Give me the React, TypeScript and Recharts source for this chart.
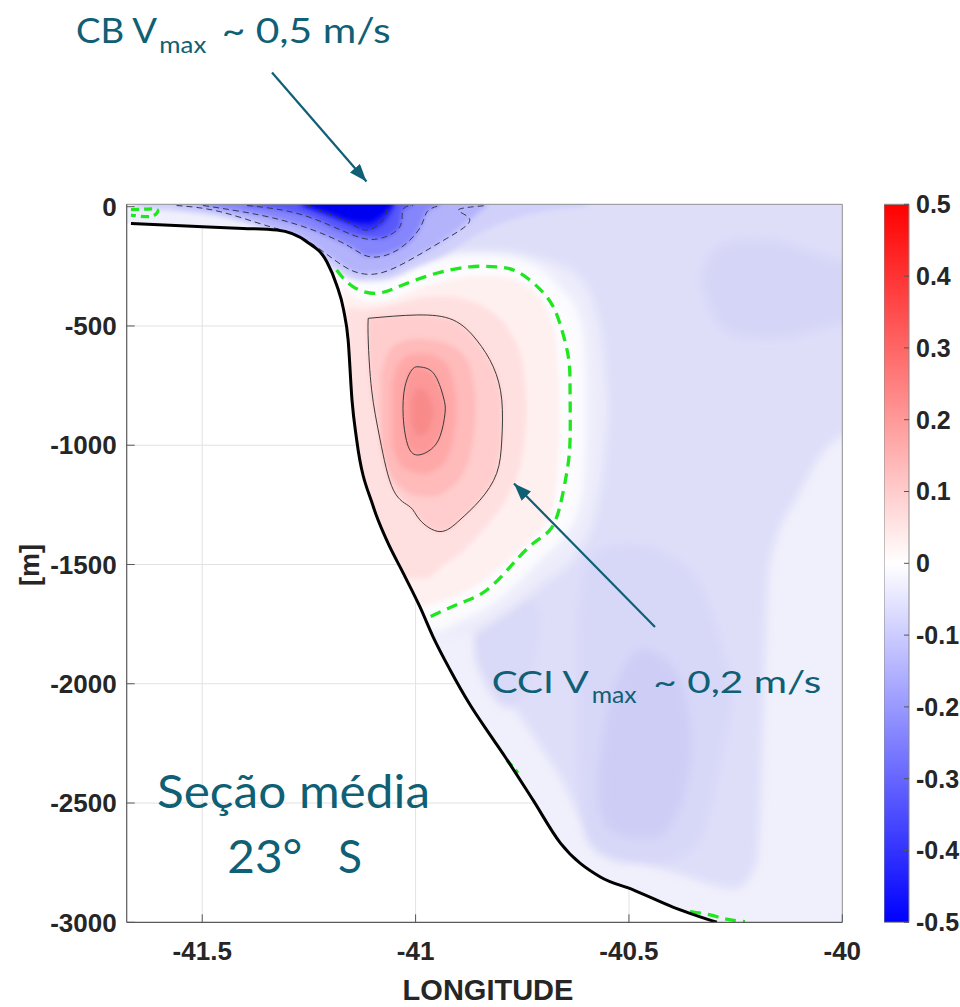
import React from 'react';
import { ComposedChart, Area, Line, XAxis, YAxis, ReferenceLine, ReferenceArea } from 'recharts';

type Pt = [number, number];
type Band = [number, number, number];

// ---------- axes ----------
const lonTicks = [-41.5, -41, -40.5, -40];
const depthTicks = [0, -500, -1000, -1500, -2000, -2500, -3000];
const colorTicks = [0.5, 0.4, 0.3, 0.2, 0.1, 0, -0.1, -0.2, -0.3, -0.4, -0.5];
const lonDomain: [number, number] = [-41.677, -40];
const depthDomain: [number, number] = [-3000, 10];
const colorDomain: [number, number] = [-0.5, 0.5];

// ---------- bathymetry [lon, depth] ----------
const bathymetry: Pt[] = [
  [-41.667, -70], [-41.55, -80], [-41.404, -91], [-41.325, -98], [-41.255, -147], [-41.208, -231],
  [-41.185, -328], [-41.169, -430], [-41.158, -560], [-41.149, -811], [-41.138, -978],
  [-41.099, -1258], [-41.068, -1397], [-41.029, -1536], [-40.99, -1677], [-40.959, -1803],
  [-40.919, -1942], [-40.872, -2089], [-40.825, -2215], [-40.79, -2307], [-40.725, -2487],
  [-40.661, -2667], [-40.567, -2810], [-40.49, -2864], [-40.397, -2936], [-40.294, -3000],
];

// ---------- contour lines [lon, depth] ----------
const zeroMain: Pt[] = [
  [-41.185, -265], [-41.147, -335], [-41.091, -363], [-41.03, -328], [-40.951, -279], [-40.873, -252],
  [-40.81, -252], [-40.755, -279], [-40.693, -377], [-40.662, -489], [-40.642, -629], [-40.638, -768],
  [-40.638, -978], [-40.646, -1118], [-40.662, -1258], [-40.685, -1355], [-40.724, -1411],
  [-40.771, -1495], [-40.833, -1607], [-40.896, -1663], [-40.966, -1719],
];
const zeroTopLeft: Pt[] = [
  [-41.667, -12], [-41.63, -10], [-41.605, -14], [-41.615, -38], [-41.645, -40], [-41.667, -35],
];
const zeroSlope: Pt[] = [[-40.786, -2320], [-40.76, -2374]];
const zeroBottom: Pt[] = [[-40.357, -2955], [-40.31, -2969], [-40.271, -2987], [-40.228, -2997]];

const pos10: Pt[] = [
  [-41.111, -468], [-40.997, -454], [-40.912, -475], [-40.857, -559], [-40.818, -671], [-40.798, -810],
  [-40.798, -978], [-40.81, -1118], [-40.849, -1230], [-40.896, -1313], [-40.943, -1362],
  [-40.99, -1313], [-41.013, -1258], [-41.052, -1188], [-41.083, -978], [-41.103, -768],
  [-41.111, -559], [-41.111, -468],
];
const pos20: Pt[] = [
  [-40.997, -671], [-40.958, -698], [-40.935, -797], [-40.931, -866], [-40.943, -964], [-40.966, -1020],
  [-40.994, -1041], [-41.017, -1006], [-41.029, -880], [-41.025, -755], [-41.009, -685], [-40.997, -671],
];
const neg10: Pt[] = [
  [-41.56, 5], [-41.458, -21], [-41.341, -84], [-41.264, -131], [-41.184, -231], [-41.13, -279],
  [-41.076, -275], [-41.006, -216], [-40.927, -133], [-40.873, -56], [-40.9, -14], [-40.833, 5],
];
const neg20: Pt[] = [
  [-41.498, 5], [-41.365, -35], [-41.254, -89], [-41.161, -161], [-41.107, -210], [-41.043, -182],
  [-40.99, -89], [-40.973, -21], [-40.943, 5],
];
const neg30: Pt[] = [
  [-41.395, 5], [-41.264, -35], [-41.147, -119], [-41.083, -133], [-41.037, -84], [-41.03, -14], [-41.006, 5],
];
const neg40: Pt[] = [[-41.254, 5], [-41.161, -63], [-41.114, -98], [-41.076, -56], [-41.067, 5]];

// ---------- filled velocity levels [lon, lower depth, upper depth] ----------
const bandBase: Band[] = [[-41.8, -3100, 60], [-39.9, -3100, 60]];
const bandMain: Band[] = [
  [-41.3, -120, 60], [-41.2, -300, 60], [-41.1, -1200, 60], [-41.0, -1650, 60], [-40.89, -1728, 60],
  [-40.8, -2014, 60], [-40.72, -2231, 60], [-40.655, -2412, 60], [-40.62, -2542, 60], [-40.53, -2684, 60],
  [-40.36, -2810, 60], [-40.25, -2860, 60], [-40.2, -2750, 60], [-40.17, -1500, 60], [-40.1, -1200, 60],
  [-40.03, -1000, 60], [-39.9, -900, 60],
];
const bandNE: Band[] = [
  [-40.33, -330, -300], [-40.31, -430, -200], [-40.27, -520, -150], [-40.22, -551, -140],
  [-40.17, -552, -140], [-40.12, -546, -160], [-40.07, -520, -194], [-39.9, -470, -250],
];
const bandDeep: Band[] = [
  [-40.62, -2300, -1750], [-40.6, -2650, -1500], [-40.55, -2730, -1430], [-40.5, -2750, -1418],
  [-40.45, -2750, -1430], [-40.4, -2740, -1470], [-40.33, -2640, -1600], [-40.29, -2350, -1800],
  [-40.26, -2100, -2000],
];
const bandSlopePatch: Band[] = [
  [-40.86, -1900, -1800], [-40.82, -2050, -1700], [-40.78, -2100, -1650], [-40.74, -2000, -1640], [-40.71, -1800, -1700],
];
const bandDeepCore: Band[] = [
  [-40.57, -2500, -2350], [-40.55, -2600, -2139], [-40.5, -2640, -1900], [-40.47, -2645, -1858],
  [-40.43, -2640, -1880], [-40.4, -2580, -1929], [-40.37, -2450, -2050], [-40.357, -2300, -2181],
];
const haloOuter: Band[] = [
  [-41.2, -700, -200], [-41.1, -1450, -240], [-41.0, -1800, -230], [-40.9, -1800, -190], [-40.8, -1720, -190],
  [-40.7, -1580, -220], [-40.62, -1450, -290], [-40.58, -1300, -420], [-40.56, -1100, -600], [-40.55, -900, -800],
];
const haloInner: Band[] = [
  [-41.2, -650, -240], [-41.15, -1000, -290], [-41.1, -1400, -310], [-41.05, -1650, -290], [-41.0, -1780, -250],
  [-40.95, -1780, -225], [-40.9, -1740, -205], [-40.85, -1700, -200], [-40.8, -1640, -205], [-40.75, -1560, -225],
  [-40.7, -1470, -270], [-40.65, -1380, -360], [-40.62, -1280, -440], [-40.605, -1150, -560], [-40.6, -950, -750],
];
const blue05: Band[] = [
  [-41.66, -5, 60], [-41.55, -20, 60], [-41.45, -45, 60], [-41.34, -100, 60], [-41.27, -155, 60], [-41.2, -250, 60],
  [-41.13, -310, 60], [-41.07, -305, 60], [-41.0, -255, 60], [-40.92, -190, 60], [-40.86, -120, 60],
  [-40.8, -70, 60], [-40.74, -35, 60], [-40.66, -10, 60], [-40.6, 0, 60],
];
const blue10: Band[] = [
  [-41.56, 5, 60], [-41.458, -21, 60], [-41.341, -84, 60], [-41.264, -131, 60], [-41.184, -231, 60],
  [-41.13, -279, 60], [-41.076, -275, 60], [-41.006, -216, 60], [-40.927, -133, 60], [-40.873, -56, 60], [-40.833, 5, 60],
];
const blue20: Band[] = [
  [-41.498, 5, 60], [-41.365, -35, 60], [-41.254, -89, 60], [-41.161, -161, 60], [-41.107, -210, 60],
  [-41.043, -182, 60], [-40.99, -89, 60], [-40.973, -21, 60], [-40.943, 5, 60],
];
const blue30: Band[] = [
  [-41.395, 5, 60], [-41.264, -35, 60], [-41.147, -119, 60], [-41.083, -133, 60], [-41.037, -84, 60],
  [-41.03, -14, 60], [-41.006, 5, 60],
];
const blue40: Band[] = [[-41.27, 5, 60], [-41.161, -70, 60], [-41.114, -100, 60], [-41.07, -60, 60], [-41.05, 5, 60]];
const blue50: Band[] = [[-41.26, 5, 60], [-41.2, -30, 60], [-41.15, -62, 60], [-41.11, -68, 60], [-41.08, -40, 60], [-41.055, 5, 60]];
const red03: Band[] = [
  [-41.17, -700, -310], [-41.15, -1000, -372], [-41.1, -1400, -400], [-41.05, -1600, -385], [-41.0, -1680, -345],
  [-40.95, -1660, -320], [-40.9, -1630, -298], [-40.85, -1580, -290], [-40.8, -1510, -292], [-40.75, -1430, -320],
  [-40.71, -1360, -380], [-40.685, -1290, -460], [-40.67, -1180, -560], [-40.663, -1000, -750],
];
const red06: Band[] = [
  [-41.16, -800, -420], [-41.12, -1300, -430], [-41.08, -1450, -420], [-41.03, -1560, -400], [-40.98, -1560, -380],
  [-40.93, -1500, -375], [-40.88, -1430, -390], [-40.83, -1330, -430], [-40.78, -1200, -520], [-40.75, -1050, -650],
  [-40.74, -900, -800],
];
const red10: Band[] = [
  [-41.112, -560, -470], [-41.105, -760, -465], [-41.09, -900, -462], [-41.08, -1000, -460], [-41.06, -1150, -458],
  [-41.05, -1190, -457], [-41.03, -1225, -455], [-41.013, -1258, -454], [-40.99, -1313, -454], [-40.943, -1362, -462],
  [-40.912, -1345, -475], [-40.896, -1313, -490], [-40.857, -1250, -559], [-40.849, -1230, -580],
  [-40.818, -1150, -671], [-40.81, -1118, -700], [-40.8, -1000, -780], [-40.798, -978, -810],
];
const red14: Band[] = [
  [-41.08, -1000, -700], [-41.06, -1120, -600], [-41.03, -1180, -565], [-41.0, -1210, -555], [-40.96, -1215, -560],
  [-40.92, -1180, -580], [-40.89, -1120, -620], [-40.87, -1020, -690], [-40.86, -900, -800],
];
const red17: Band[] = [
  [-41.055, -1000, -740], [-41.04, -1070, -660], [-41.01, -1110, -620], [-40.98, -1120, -615], [-40.95, -1100, -630],
  [-40.92, -1030, -680], [-40.905, -900, -800],
];
const red20: Band[] = [
  [-41.029, -900, -830], [-41.025, -960, -755], [-41.017, -1006, -700], [-41.009, -1020, -685], [-40.997, -1035, -671],
  [-40.975, -1032, -685], [-40.958, -1005, -698], [-40.943, -964, -760], [-40.935, -920, -797], [-40.931, -880, -850],
];
const red23: Band[] = [[-41.01, -900, -820], [-40.995, -960, -760], [-40.975, -950, -775], [-40.96, -880, -840]];

// grid segments visible in the blank area below the sea floor
const gridLonFloor: Pt[] = [[-41.5, -86], [-41, -1641], [-40.5, -2858]];
const gridDepthEdge: Pt[] = [[-500, -41.163], [-1000, -41.137], [-1500, -41.039], [-2000, -40.9], [-2500, -40.72]];

// ---------- helpers / styling tables ----------
const rangeData = (b: Band[]) => b.map(([lon, lo, hi]) => ({ lon, r: [lo, hi] }));
const lineData = (p: Pt[]) => p.map(([lon, d]) => ({ lon, d }));
const maskBand: Band[] = [
  [-41.8, -3200, -70],
  ...bathymetry.map(([lon, d]) => [lon, -3200, d] as Band),
  [-40.2, -3200, -3100],
  [-39.9, -3200, -3100],
];
const colorbarData = [
  { x: 0, r: colorDomain },
  { x: 1, r: colorDomain },
];

const fieldLayers: { id: string; band: Band[]; color: string; blur: string }[] = [
  { id: 'base', band: bandBase, color: '#f0f0fc', blur: 'soft' },
  { id: 'main', band: bandMain, color: '#dedef9', blur: 'soft' },
  { id: 'ne', band: bandNE, color: '#d5d5f7', blur: 'soft' },
  { id: 'deep', band: bandDeep, color: '#d7d7f8', blur: 'soft' },
  { id: 'slopePatch', band: bandSlopePatch, color: '#d9d9f8', blur: 'soft' },
  { id: 'deepCore', band: bandDeepCore, color: '#cdcdf6', blur: 'soft' },
  { id: 'haloOuter', band: haloOuter, color: '#ececfb', blur: 'soft' },
  { id: 'haloInner', band: haloInner, color: '#fcfcff', blur: 'soft' },
  { id: 'b05', band: blue05, color: '#d0d0fb', blur: 'fine' },
  { id: 'b10', band: blue10, color: '#b3b3fc', blur: 'fine' },
  { id: 'b20', band: blue20, color: '#8686fc', blur: 'fine' },
  { id: 'b30', band: blue30, color: '#5858fa', blur: 'fine' },
  { id: 'b40', band: blue40, color: '#2a2af7', blur: 'fine' },
  { id: 'b50', band: blue50, color: '#0505f0', blur: 'fine' },
  { id: 'r03', band: red03, color: '#fff0f0', blur: 'fine' },
  { id: 'r06', band: red06, color: '#ffe0e0', blur: 'fine' },
  { id: 'r10', band: red10, color: '#ffcdcd', blur: 'fine' },
  { id: 'r14', band: red14, color: '#ffbaba', blur: 'fine' },
  { id: 'r17', band: red17, color: '#ffa8a8', blur: 'fine' },
  { id: 'r20', band: red20, color: '#fd9898', blur: 'fine' },
  { id: 'r23', band: red23, color: '#f88a8a', blur: 'fine' },
];

const contourLines: { id: string; pts: Pt[]; color: string; width: number; dash?: string }[] = [
  { id: 'n10', pts: neg10, color: '#363650', width: 1, dash: '6 4' },
  { id: 'n20', pts: neg20, color: '#363650', width: 1, dash: '6 4' },
  { id: 'n30', pts: neg30, color: '#363650', width: 1, dash: '6 4' },
  { id: 'n40', pts: neg40, color: '#363650', width: 1, dash: '6 4' },
  { id: 'p10', pts: pos10, color: '#3a3a3a', width: 1 },
  { id: 'p20', pts: pos20, color: '#3a3a3a', width: 1 },
  { id: 'z0', pts: zeroMain, color: '#1fe61f', width: 3.3, dash: '11 7' },
  { id: 'z1', pts: zeroTopLeft, color: '#1fe61f', width: 3.3, dash: '8 5' },
  { id: 'z2', pts: zeroSlope, color: '#1fe61f', width: 3.3, dash: '8 5' },
  { id: 'z3', pts: zeroBottom, color: '#1fe61f', width: 3.3, dash: '11 7' },
];

const tickFont = {
  fill: '#262626',
  fontSize: 26,
  fontWeight: 700,
  fontFamily: '"Liberation Sans", Arial, sans-serif',
};
const teal = '#0f5f75';
const annFont = 'Lato, "Open Sans", sans-serif';

export default function App() {
  return (
    <div style={{ position: 'absolute', left: 0, top: 0, width: 960, height: 1007, background: '#fff' }}>
      <div style={{ position: 'absolute', left: 0, top: 0 }}>
        <ComposedChart width={960} height={1007} margin={{ top: 204.3, right: 117.7, bottom: 0, left: 0 }}>
          <defs>
            <filter id="soft" filterUnits="userSpaceOnUse" x="0" y="0" width="960" height="1007">
              <feGaussianBlur stdDeviation="5" />
            </filter>
            <filter id="fine" filterUnits="userSpaceOnUse" x="0" y="0" width="960" height="1007">
              <feGaussianBlur stdDeviation="2.5" />
            </filter>
          </defs>
          <XAxis
            dataKey="lon"
            type="number"
            domain={lonDomain}
            ticks={lonTicks}
            interval={0}
            allowDataOverflow
            height={84.7}
            tickSize={-8}
            tickMargin={27}
            tickLine={{ stroke: '#595959' }}
            axisLine={{ stroke: '#595959', strokeWidth: 1.2 }}
            tick={tickFont}
          />
          <YAxis
            type="number"
            domain={depthDomain}
            ticks={depthTicks}
            interval={0}
            allowDataOverflow
            width={126.7}
            tickSize={-8}
            tickMargin={18}
            tickLine={{ stroke: '#595959' }}
            axisLine={{ stroke: '#595959', strokeWidth: 1.2 }}
            tick={tickFont}
          />
          {fieldLayers.map((l) => (
            <Area
              key={l.id}
              data={rangeData(l.band)}
              dataKey="r"
              type="monotone"
              stroke="none"
              fill={l.color}
              fillOpacity={1}
              dot={false}
              activeDot={false}
              isAnimationActive={false}
              filter={`url(#${l.blur})`}
            />
          ))}
          <Area
            key="mask"
            data={rangeData(maskBand)}
            dataKey="r"
            type="monotone"
            stroke="none"
            fill="#ffffff"
            fillOpacity={1}
            dot={false}
            activeDot={false}
            isAnimationActive={false}
          />
          {gridLonFloor.map(([lon, d]) => (
            <ReferenceLine
              key={'gv' + lon}
              segment={[{ x: lon, y: -3000 }, { x: lon, y: d }]}
              stroke="#e2e2e2"
              zIndex={150}
            />
          ))}
          {gridDepthEdge.map(([d, lon]) => (
            <ReferenceLine
              key={'gh' + d}
              segment={[{ x: lonDomain[0], y: d }, { x: lon, y: d }]}
              stroke="#e2e2e2"
              zIndex={150}
            />
          ))}
          <ReferenceLine y={depthDomain[1]} stroke="#8f8f8f" zIndex={150} />
          <ReferenceLine x={lonDomain[1]} stroke="#8f8f8f" zIndex={150} />
          {contourLines.map((c) => (
            <Line
              key={c.id}
              data={lineData(c.pts)}
              dataKey="d"
              type="natural"
              stroke={c.color}
              strokeWidth={c.width}
              strokeDasharray={c.dash}
              dot={false}
              activeDot={false}
              isAnimationActive={false}
            />
          ))}
          <Line
            data={lineData(bathymetry)}
            dataKey="d"
            type="monotone"
            stroke="#000"
            strokeWidth={3}
            dot={false}
            activeDot={false}
            isAnimationActive={false}
          />
        </ComposedChart>
      </div>

      <div style={{ position: 'absolute', left: 884.3, top: 0 }}>
        <ComposedChart width={76} height={1007} margin={{ top: 204.3, right: 0, bottom: 84.7, left: 0 }} data={colorbarData}>
          <defs>
            <linearGradient id="cbGrad" x1="0" y1="0" x2="0" y2="1">
              <stop offset="0%" stopColor="#ff0000" />
              <stop offset="50%" stopColor="#ffffff" />
              <stop offset="100%" stopColor="#0000ff" />
            </linearGradient>
          </defs>
          <XAxis dataKey="x" type="number" domain={[0, 1]} allowDataOverflow hide />
          <YAxis
            type="number"
            orientation="right"
            domain={colorDomain}
            allowDataOverflow
            ticks={colorTicks}
            interval={0}
            width={51}
            axisLine={false}
            tickSize={-5}
            tickMargin={12}
            tickLine={{ stroke: '#555' }}
            tick={{ ...tickFont, fontSize: 25 }}
          />
          <Area
            dataKey="r"
            type="linear"
            stroke="none"
            fill="url(#cbGrad)"
            fillOpacity={1}
            dot={false}
            activeDot={false}
            isAnimationActive={false}
          />
          <ReferenceArea x1={0} x2={1} y1={colorDomain[0]} y2={colorDomain[1]} fill="none" stroke="#8a8a8a" />
        </ComposedChart>
      </div>

      <svg width={960} height={1007} style={{ position: 'absolute', left: 0, top: 0, pointerEvents: 'none' }}>
        <defs>
          <marker id="ah" markerWidth="8" markerHeight="6" refX="8" refY="3" orient="auto" markerUnits="strokeWidth">
            <path d="M0,0 L8,3 L0,6 z" fill={teal} />
          </marker>
        </defs>
        <text x={39} y={565} textAnchor="middle" transform="rotate(-90 39 565)"
          style={{ ...tickFont, fontSize: 27 }}>[m]</text>
        <text x={488} y={1000} textAnchor="middle" style={{ ...tickFont, fontSize: 29 }}>LONGITUDE</text>

        <g fill={teal} fontFamily={annFont}>
          <text x={76} y={43.3} fontSize={34} textLength={81} lengthAdjust="spacingAndGlyphs">CB V</text>
          <text x={159.3} y={53.3} fontSize={24} textLength={47} lengthAdjust="spacingAndGlyphs">max</text>
          <text x={221.7} y={43.3} fontSize={34} textLength={169} lengthAdjust="spacingAndGlyphs">~ 0,5 m/s</text>

          <text x={491.7} y={693.3} fontSize={31} textLength={97} lengthAdjust="spacingAndGlyphs">CCI V</text>
          <text x={591.7} y={703.3} fontSize={23} textLength={45} lengthAdjust="spacingAndGlyphs">max</text>
          <text x={653.3} y={693.3} fontSize={31} textLength={168} lengthAdjust="spacingAndGlyphs">~ 0,2 m/s</text>

          <text x={157} y={808.3} fontSize={46} textLength={273} lengthAdjust="spacingAndGlyphs">Seção média</text>
          <text x={227.3} y={873.3} fontSize={46} textLength={75} lengthAdjust="spacingAndGlyphs">23°</text>
          <text x={338} y={873.3} fontSize={46} textLength={24} lengthAdjust="spacingAndGlyphs">S</text>
        </g>
        <line x1={272} y1={72.5} x2={366.5} y2={181.5} stroke={teal} strokeWidth={2.2} markerEnd="url(#ah)" />
        <line x1={655} y1={627} x2={514} y2={483.5} stroke={teal} strokeWidth={2.2} markerEnd="url(#ah)" />
      </svg>
    </div>
  );
}
